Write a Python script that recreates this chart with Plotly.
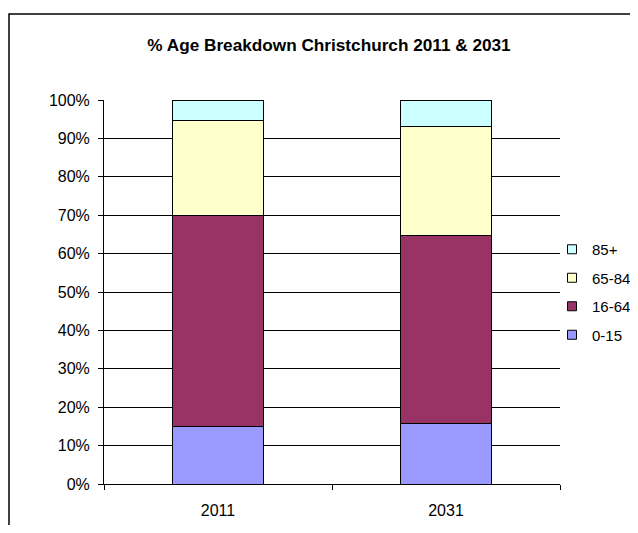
import plotly.graph_objects as go

years = ["2011", "2031"]
groups = ["0-15", "16-64", "65-84", "85+"]
values = {
    "0-15": [14.9, 15.8],
    "16-64": [55.1, 48.8],
    "65-84": [24.7, 28.5],
    "85+": [5.3, 6.9],
}
colors = {"0-15": "#9999FF", "16-64": "#993366", "65-84": "#FFFFCC", "85+": "#CCFFFF"}
y_ticks = [0, 10, 20, 30, 40, 50, 60, 70, 80, 90, 100]

FONT = "Arial, Liberation Sans, sans-serif"

fig = go.Figure()
for g in groups:
    fig.add_trace(go.Bar(
        x=years, y=values[g], name=g, showlegend=False,
        marker=dict(color=colors[g], line=dict(color="#000000", width=1)),
    ))
# legend entries with small square swatches (top to bottom: 85+ ... 0-15)
for g in reversed(groups):
    fig.add_trace(go.Scatter(
        x=[None], y=[None], mode="markers", name=g, legendgroup=g,
        marker=dict(symbol="square", size=9, color=colors[g],
                    line=dict(color="#000000", width=1)),
    ))

# page body has an 8px margin, so the figure is laid out 8px in from the window
W, H = 622, 517
L, T = 96, 92
R = W - 552
B = H - 476
pw = W - L - R
ph = H - T - B

fig.update_layout(
    width=W, height=H,
    margin=dict(l=L, r=R, t=T, b=B, pad=0, autoexpand=False),
    barmode="stack", bargap=0.6,
    paper_bgcolor="white", plot_bgcolor="white",
    font=dict(family=FONT, size=16, color="#000000"),
    title=dict(text="<b>% Age Breakdown Christchurch 2011 & 2031</b>",
               x=321 / W, xanchor="center", y=1 - 37 / H, yanchor="middle",
               yref="container", xref="container",
               font=dict(family=FONT, size=17.2, color="#000000")),
    showlegend=True,
    legend=dict(x=(544 - L) / pw, xanchor="left", y=(H - B - 284) / ph, yanchor="middle",
                traceorder="grouped", bgcolor="rgba(0,0,0,0)",
                font=dict(family=FONT, size=15), itemwidth=30,
                tracegroupgap=6),
    xaxis=dict(showline=True, linecolor="#000000", linewidth=1,
               ticks="outside", tickson="boundaries", ticklen=5, tickcolor="#000000",
               showgrid=False, zeroline=False, ticklabelstandoff=12),
    yaxis=dict(range=[0, 100], tickvals=y_ticks, ticktext=[f"{v}%" for v in y_ticks],
               showline=True, linecolor="#000000", linewidth=1,
               ticks="outside", ticklen=5, tickcolor="#000000",
               showgrid=True, gridcolor="#000000", gridwidth=1,
               zeroline=False, ticklabelstandoff=5),
    shapes=[dict(type="rect", xref="paper", yref="paper",
                 x0=(1 - L) / pw, x1=2.0, y0=-1.0, y1=1 + (T - 6) / ph,
                 line=dict(color="#000000", width=1.5), fillcolor="rgba(0,0,0,0)",
                 layer="above")],
)

fig.write_html("out.html")
